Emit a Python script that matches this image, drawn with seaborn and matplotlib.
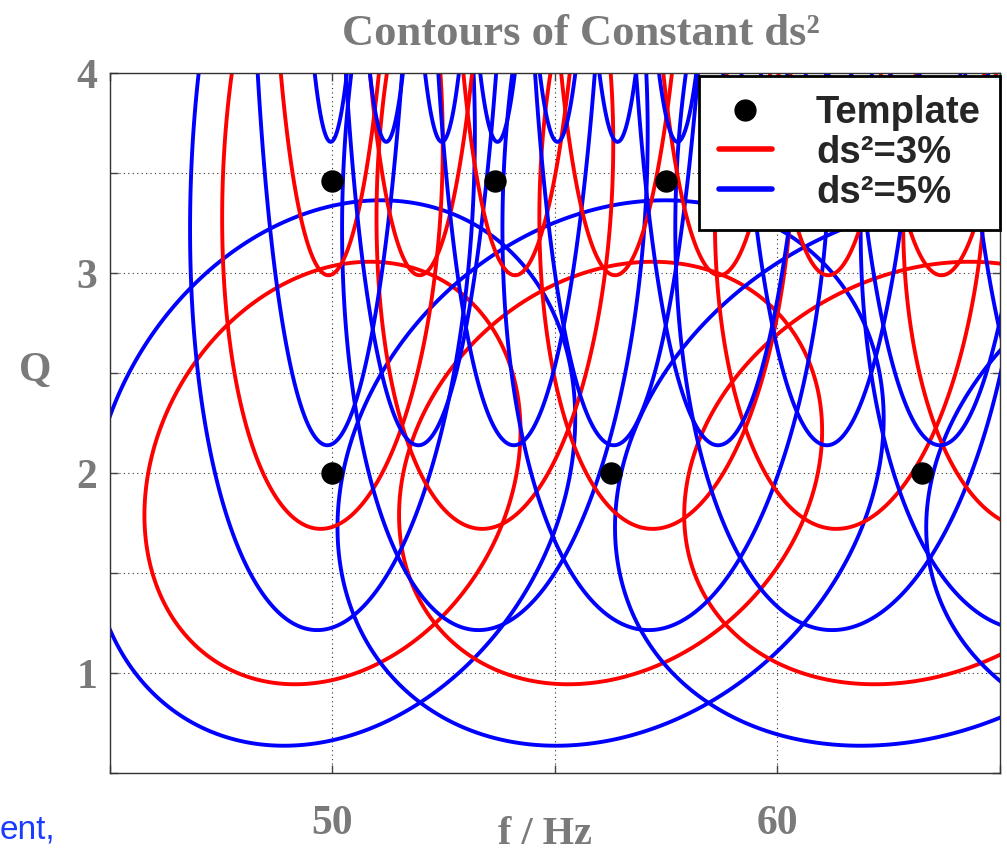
import numpy as np
import pandas as pd
import seaborn as sns
import matplotlib
matplotlib.use("Agg")
import matplotlib.pyplot as plt
from matplotlib.lines import Line2D

# Template bank: one row of centre frequencies per quality factor Q
q_rows = [2.0, 3.46, 5.91, 10.0]
f_row_q2 = [50.0, 56.25, 63.25, 71.1]
f_row_q3 = [50.0, 53.65, 57.5, 61.65, 66.1]
f_row_q6 = [50.0, 52.05, 54.2, 56.45, 58.8, 61.25, 63.8, 66.45]
f_row_q10 = [50.0, 51.25, 52.5, 53.75, 55.1, 56.45, 57.8, 59.25, 60.7, 62.15,
             63.7, 65.25, 66.85]

# Mismatch levels drawn around every template
levels = [0.03, 0.05]
level_labels = ["ds\u00b2=3%", "ds\u00b2=5%"]
level_colors = ["#ff0000", "#0000ff"]

x_ticks = [45, 50, 55, 60, 65]
x_ticklabels = ["", "50", "", "60", ""]
y_ticks = [0.5, 1.0, 1.5, 2.0, 2.5, 3.0, 3.5, 4.0]
y_ticklabels = ["", "1", "", "2", "", "3", "", "4"]

rows = [f_row_q2, f_row_q3, f_row_q6, f_row_q10]
templates = pd.DataFrame(
    [(f, q) for q, fs in zip(q_rows, rows) for f in fs], columns=["f", "Q"]
)


def ringdown_metric(f, q):
    # white-noise ringdown metric in (f, Q)
    g_qq = (3 + 16 * q**4) / (q**2 * (1 + 4 * q**2) ** 2) / 8
    g_fq = -(3 + 4 * q**2) / (f * q * (1 + 4 * q**2)) / 8
    g_ff = (3 + 8 * q**2) / f**2 / 8
    return g_ff, g_fq, g_qq


sns.set_style("ticks")
plt.rcParams["font.family"] = ["Liberation Serif", "DejaVu Serif"]
gray = "#7a7a7a"

fig = plt.figure(figsize=(10.07, 8.55), dpi=100)
ax = fig.add_axes([0.1092, 0.0959, 0.8838, 0.8187])

fg, qg = np.meshgrid(np.linspace(44.9, 65.1, 900), np.linspace(0.45, 4.05, 700))
for _, t in templates.iterrows():
    g_ff, g_fq, g_qq = ringdown_metric(t["f"], t["Q"])
    df = fg - t["f"]
    dq = qg - t["Q"]
    ds2 = g_ff * df**2 + 2 * g_fq * df * dq + g_qq * dq**2
    ax.contour(fg, qg, ds2, levels=levels, colors=level_colors, linewidths=2.8)

sns.scatterplot(data=templates, x="f", y="Q", color="black", s=260,
                edgecolor="black", linewidth=0, zorder=5, ax=ax, legend=False)

ax.set_xlim(45, 65)
ax.set_ylim(0.5, 4.0)
ax.set_xticks(x_ticks)
ax.set_xticklabels(x_ticklabels)
ax.set_yticks(y_ticks)
ax.set_yticklabels(y_ticklabels)
ax.grid(True, linestyle=(0, (1, 3)), color="#333333", linewidth=0.8)
ax.tick_params(direction="in", top=True, right=True, length=6, width=1, color="#444444")
ax.tick_params(axis="x", pad=23, labelsize=30, labelcolor=gray)
ax.tick_params(axis="y", pad=9, labelsize=30, labelcolor=gray)
for lab in ax.get_xticklabels() + ax.get_yticklabels():
    lab.set_fontweight("bold")
for sp in ax.spines.values():
    sp.set_color("#333333")
    sp.set_linewidth(1.0)

ax.set_xlabel("f / Hz", fontsize=29, fontweight="bold", color=gray)
ax.xaxis.set_label_coords(0.489, -0.088)
ax.xaxis.label.set_va("center")
ax.set_ylabel("Q", fontsize=30, fontweight="bold", color=gray, rotation=0)
ax.yaxis.set_label_coords(-0.084, 0.575)
ax.yaxis.label.set_va("center")
ax.yaxis.label.set_ha("center")

fig.text(0.577, 0.960, "Contours of Constant ds\u00b2", ha="center", va="center",
         fontsize=32, fontweight="bold", color=gray)

handles = [Line2D([], [], marker="o", linestyle="none", color="black", markersize=15)]
handles += [Line2D([], [], color=c, linewidth=4) for c in level_colors]
leg = ax.legend(handles, ["Template"] + level_labels, loc="upper right",
                bbox_to_anchor=(1.0, 0.996), borderaxespad=0.0, fancybox=False,
                framealpha=1, edgecolor="black", handlelength=1.4,
                handletextpad=1.15, labelspacing=0.1, borderpad=0.5,
                prop={"family": "Liberation Sans", "weight": "bold", "size": 27.5})
leg.get_frame().set_linewidth(2)

fig.text(0.0, 0.029, "ent,", ha="left", va="center", fontsize=24,
         color="#1a3cff", family="Liberation Sans")

fig.savefig("out.png", dpi=100)
